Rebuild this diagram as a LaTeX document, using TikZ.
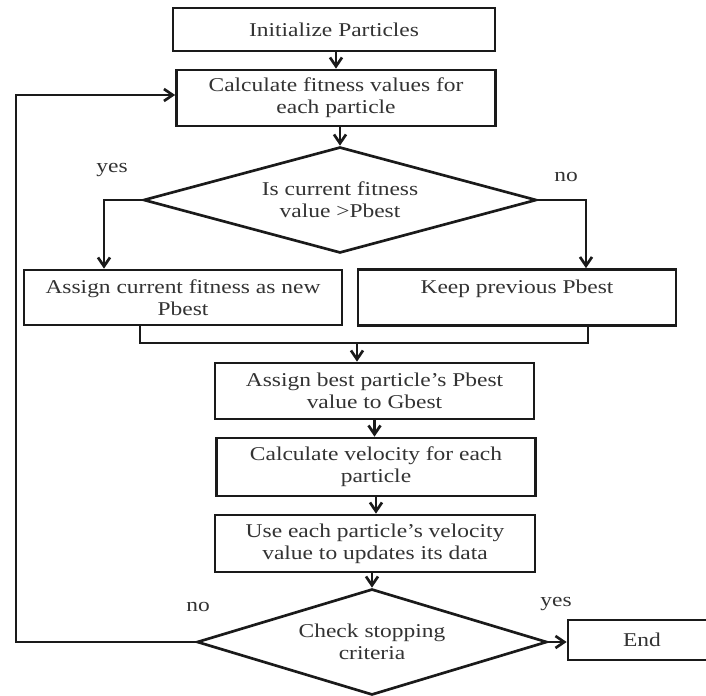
\documentclass[tikz,border=0pt]{standalone}
\usepackage{fontspec}
\setmainfont{Liberation Serif}[FakeStretch=1.2]
\usepackage{tikz}
\usetikzlibrary{arrows.meta,positioning,shapes.geometric}
\definecolor{Ink}{HTML}{333333}
\definecolor{Edge}{HTML}{1A1A1A}

\begin{document}
\begin{tikzpicture}[
  x=0.025cm,y=-0.025cm,
  every node/.style={font=\fontsize{13.9}{15.6}\selectfont,text=Ink},
  stage/.style={rectangle,draw=Edge,line width=1.9pt,fill=white,align=center,inner sep=2pt},
  test/.style={diamond,draw=Edge,line width=1.9pt,align=center,inner sep=0pt,minimum height=2.65cm},
  line/.style={draw=Edge,line width=1.9pt},
  arrow/.style={line,-{Straight Barb[length=2.2mm,width=3mm]}}
]
\useasboundingbox (0,0) rectangle (706,696);
\clip (0,0) rectangle (706,696);
\node[stage,minimum width=8.05cm,minimum height=1.075cm] (init) at (334,29.5) {Initialize Particles};
\node[stage,minimum width=7.975cm,minimum height=1.4cm] (fit) at (336,98) {Calculate fitness values for\\each particle};
\node[test,aspect=3.7,minimum width=9.825cm] (cmp) at (340,200) {Is current fitness\\value >Pbest};
\node[stage,minimum width=7.95cm,minimum height=1.375cm] (assign) at (183,297.5) {Assign current fitness as new\\Pbest};
\node[stage,minimum width=7.95cm,minimum height=1.4cm] (keep) at (517,297.5) {Keep previous Pbest\\\mbox{}};
\node[stage,minimum width=7.975cm,minimum height=1.4cm] (gbest) at (374.5,391) {Assign best particle's Pbest\\value to Gbest};
\node[stage,minimum width=7.975cm,minimum height=1.45cm] (vel) at (376,467) {Calculate velocity for each\\particle};
\node[stage,minimum width=8cm,minimum height=1.425cm] (upd) at (375,543.5) {Use each particle's velocity\\value to updates its data};
\node[test,aspect=3.3,minimum width=8.75cm] (stop) at (372,642) {Check stopping\\criteria};
\node[stage,minimum width=3.7cm,minimum height=1cm] (fin) at (642,640) {End};
% branch labels
\node (yes1) at (112,170) {yes};
\node (no1) at (566,177) {no};
\node (no2) at (198,607) {no};
\node (yes2) at (556,604) {yes};
% helper points
\coordinate (ya) at (104,0);
\coordinate (yb) at (586,0);
\coordinate (mergeL) at (140,343);
\coordinate (mergeR) at (588,343);
\coordinate (merge) at (357,343);
\coordinate (back) at (16,95);
\draw[arrow] (init.south -| fit.north) -- (fit.north);
\draw[arrow] (fit.south -| cmp.north) -- (cmp.north);
\draw[arrow] (cmp.west) -| (assign.north -| ya);
\draw[arrow] (cmp.east) -| (keep.north -| yb);
\draw[line] (assign.south -| mergeL) -- (mergeL) -- (mergeR) -- (keep.south -| mergeR);
\draw[arrow] (merge) -- (merge |- gbest.north);
\draw[arrow] (gbest.south) -- (gbest.south |- vel.north);
\draw[arrow] (vel.south) -- (vel.south |- upd.north);
\draw[arrow] (upd.south -| stop.north) -- (stop.north);
\draw[arrow] (stop.east) -- (stop.east -| fin.west);
\draw[arrow] (stop.west) -- (stop.west -| back) -- (back) -- (back -| fit.west);
\end{tikzpicture}
\end{document}
